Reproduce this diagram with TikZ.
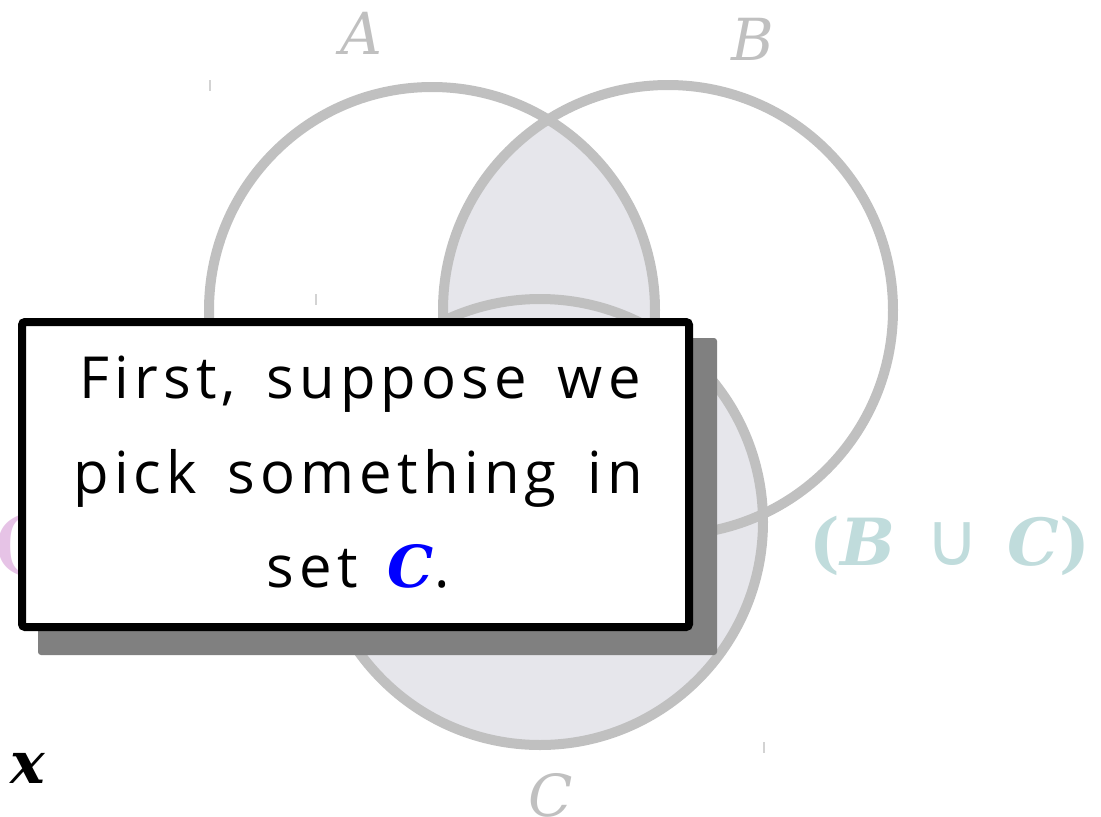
\documentclass[tikz,border=0pt]{standalone}
\usepackage{fontspec}
\newfontfamily\handfont[LetterSpace=9,WordSpace=1.5]{Open Sans}
\newfontfamily\serifit{DejaVu Serif Italic}
\newfontfamily\serifbi{DejaVu Serif Bold Italic}
\newfontfamily\serifb{DejaVu Serif Bold}
\newfontfamily\symfont{DejaVu Sans}
\definecolor{ringgray}{HTML}{C0C0C0}
\definecolor{shadeset}{HTML}{E6E6EB}
\definecolor{tealtxt}{HTML}{C0DCDC}
\definecolor{pinktxt}{HTML}{E6C3E6}
\definecolor{shadowgray}{HTML}{808080}
\tikzset{
  ring/.style={draw=ringgray, line width=10pt},
  setlabel/.style={text=ringgray, font=\serifit\fontsize{58}{58}\selectfont, inner sep=0pt},
  tick/.style={draw=ringgray!70, line width=1.5pt},
  callout/.style={draw=black, line width=8pt, rounded corners=3pt, fill=white, inner sep=0pt},
  linetxt/.style={font=\handfont\fontsize{58}{58}\selectfont, inner sep=0pt, anchor=base}
}
\begin{document}
\begin{tikzpicture}[x=1pt,y=-1pt]
\useasboundingbox (0,0) rectangle (1101,817);
% centres
\coordinate (ca) at (432,310);
\coordinate (cb) at (668,310);
\coordinate (cc) at (540,522);
% shaded region (A cap B) cup C
\fill[shadeset] (cc) circle[radius=223];
\begin{scope}
  \clip (ca) circle[radius=223];
  \fill[shadeset] (cb) circle[radius=225];
\end{scope}
% rings
\draw[ring] (ca) circle[radius=223];
\draw[ring] (cb) circle[radius=225];
\draw[ring] (cc) circle[radius=223];
% labels
\node[setlabel] (la) at (361,33) {A};
\node[setlabel] (lb) at (753,39) {B};
\node[setlabel] (lc) at (551,795) {C};
% ticks
\draw[tick] (210,80) -- (210,91);
\draw[tick] (316,294) -- (316,305);
\draw[tick] (764,742) -- (764,753);
% side labels
\node[text=pinktxt, font=\serifb\fontsize{66}{66}\selectfont, inner sep=0pt, anchor=west] (lp) at (-8,546) {(};
\node[text=tealtxt, font=\fontsize{65}{65}\selectfont, inner sep=0pt] (lbc) at (950,546) {{\serifb(}{\serifbi B}\hspace{30pt}{\symfont\fontsize{74}{74}\selectfont ∪}\hspace{28pt}{\serifbi C}{\serifb)}};
\node[font=\serifbi\fontsize{58}{58}\selectfont, inner sep=0pt] (lx) at (28,768) {x};
% callout
\fill[shadowgray, rounded corners=3pt] (38,338) rectangle (717,655);
\draw[callout] (22,322) rectangle (689,627);
\node[linetxt] (t1) at (360,398) {First, suppose we};
\node[linetxt] (t2) at (358,493) {pick something in};
\node[linetxt] (t3) at (358,587) {set {\serifbi\textcolor{blue}{C}}.};
\end{tikzpicture}
\end{document}
